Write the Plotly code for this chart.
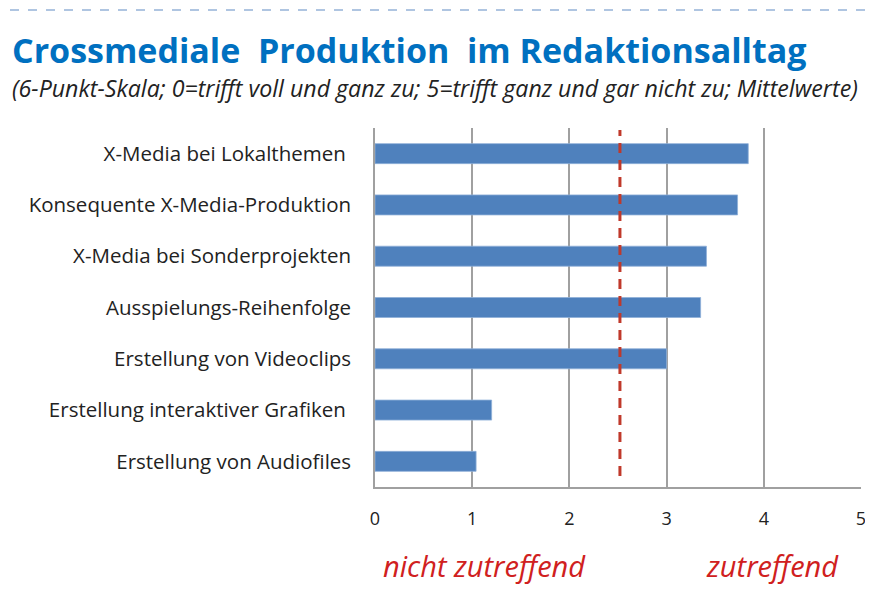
import plotly.graph_objects as go

categories = [
    "X-Media bei Lokalthemen ",
    "Konsequente X-Media-Produktion",
    "X-Media bei Sonderprojekten",
    "Ausspielungs-Reihenfolge",
    "Erstellung von Videoclips",
    "Erstellung interaktiver Grafiken ",
    "Erstellung von Audiofiles",
]
values = [3.84, 3.73, 3.41, 3.35, 3.0, 1.2, 1.04]
tick_vals = [0, 1, 2, 3, 4, 5]
tick_labels = ["0", "1", "2", "3", "4", "5"]
ref_line = 2.52

W, H = 865, 592
ML, MR, MT, MB = 367, 12, 120, 113
PW = W - ML - MR
PH = H - MT - MB


def px(xp):
    return (xp - 8 - ML) / PW


def py(yp):
    return (H - MB - (yp - 8)) / PH


fig = go.Figure()
fig.add_trace(go.Bar(
    y=categories, x=values, orientation="h",
    marker=dict(color="#4F81BD", line=dict(color="#8FB0D8", width=0.8)),
    width=0.39,
))

fig.add_shape(type="line", xref="x", yref="paper", x0=ref_line, x1=ref_line,
              y0=py(476), y1=py(130), line=dict(color="#C0392B", width=3, dash="10px,7px"))
# top dashed border
fig.add_shape(type="line", xref="paper", yref="paper", x0=px(10), x1=px(873),
              y0=py(10), y1=py(10), line=dict(color="#95B3D7", width=1.5, dash="dash"))

fig.update_layout(
    width=W, height=H,
    margin=dict(l=ML, r=MR, t=MT, b=MB, autoexpand=False),
    paper_bgcolor="white", plot_bgcolor="white",
    showlegend=False,
    font=dict(family="Open Sans", color="#222"),
    xaxis=dict(range=[0, 5], tickvals=tick_vals, ticktext=tick_labels,
               showgrid=True, gridcolor="#A0A0A0", gridwidth=1.5,
               showline=True, linecolor="#A0A0A0", linewidth=1.5,
               zeroline=False, ticks="", ticklen=0, ticklabelstandoff=15,
               tickfont=dict(size=18, color="#222"), automargin=False),
    yaxis=dict(categoryorder="array", categoryarray=categories[::-1],
               range=[-0.5, 6.5], showline=True, linecolor="#A0A0A0", linewidth=1.5,
               showgrid=False, ticks="", tickfont=dict(size=20.5, color="#222"),
               ticklabelstandoff=18, automargin=False),
    annotations=[
        dict(text="<b>Crossmediale  Produktion  im Redaktionsalltag</b>",
             xref="paper", yref="paper", x=px(10), y=py(50), xanchor="left", yanchor="middle",
             showarrow=False, font=dict(size=34, color="#0070C0", family="Open Sans")),
        dict(text="<i>(6-Punkt-Skala; 0=trifft voll und ganz zu; 5=trifft ganz und gar nicht zu; Mittelwerte)</i>",
             xref="paper", yref="paper", x=px(10), y=py(88), xanchor="left", yanchor="middle",
             showarrow=False, font=dict(size=23.2, color="#222", family="Open Sans")),
        dict(text="<i>nicht zutreffend</i>", xref="paper", yref="paper", x=px(381), y=py(565),
             xanchor="left", yanchor="middle", showarrow=False,
             font=dict(size=29, color="#D02020", family="Open Sans")),
        dict(text="<i>zutreffend</i>", xref="paper", yref="paper", x=px(704), y=py(565),
             xanchor="left", yanchor="middle", showarrow=False,
             font=dict(size=29, color="#D02020", family="Open Sans")),
    ],
)

fig.write_html("out.html")
